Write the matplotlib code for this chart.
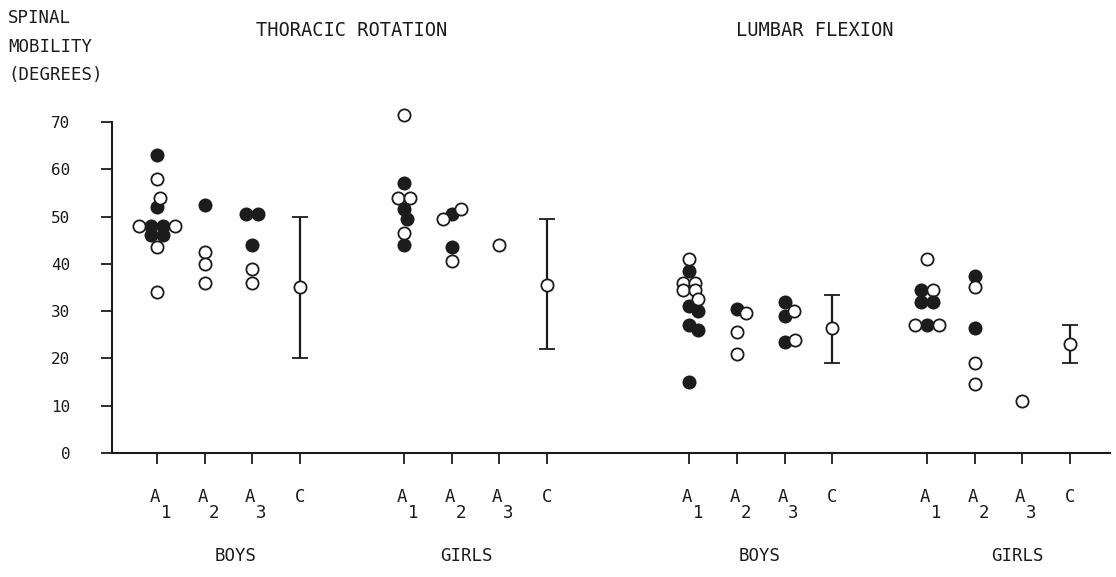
import numpy as np
import matplotlib.pyplot as plt

plt.rcParams['font.family'] = ['DejaVu Sans Mono', 'DejaVu Sans']

# --- data (degrees) ---
conditions = ["A", "A", "A", "C"]
subscripts = ["1", "2", "3", ""]
sexes = ["BOYS", "GIRLS", "BOYS", "GIRLS"]
panels = ["THORACIC ROTATION", "LUMBAR FLEXION"]
y_ticks = [0, 10, 20, 30, 40, 50, 60, 70]

# thoracic rotation - boys
tr_boys_a1_filled = [63, 52, 48, 48, 46, 46]
tr_boys_a1_open = [58, 54, 48, 48, 43.5, 34]
tr_boys_a2_filled = [52.5]
tr_boys_a2_open = [42.5, 40, 36]
tr_boys_a3_filled = [50.5, 50.5, 44]
tr_boys_a3_open = [39, 36]
tr_boys_c = [35, 20, 50]          # mean, low, high

# thoracic rotation - girls
tr_girls_a1_filled = [57, 51.5, 49.5, 44]
tr_girls_a1_open = [71.5, 54, 54, 46.5]
tr_girls_a2_filled = [50.5, 43.5]
tr_girls_a2_open = [51.5, 49.5, 40.5]
tr_girls_a3_filled = []
tr_girls_a3_open = [44]
tr_girls_c = [35.5, 22, 49.5]

# lumbar flexion - boys
lf_boys_a1_filled = [38.5, 31, 30, 27, 26, 15]
lf_boys_a1_open = [41, 36, 36, 34.5, 34.5, 32.5]
lf_boys_a2_filled = [30.5]
lf_boys_a2_open = [29.5, 25.5, 21]
lf_boys_a3_filled = [32, 29, 23.5]
lf_boys_a3_open = [30, 24]
lf_boys_c = [26.5, 19, 33.5]

# lumbar flexion - girls
lf_girls_a1_filled = [34.5, 32, 32, 27]
lf_girls_a1_open = [41, 34.5, 27, 27]
lf_girls_a2_filled = [37.5, 26.5]
lf_girls_a2_open = [35, 19, 14.5]
lf_girls_a3_filled = []
lf_girls_a3_open = [11]
lf_girls_c = [23, 19, 27]

blocks = [
    [(tr_boys_a1_filled, tr_boys_a1_open), (tr_boys_a2_filled, tr_boys_a2_open),
     (tr_boys_a3_filled, tr_boys_a3_open), tr_boys_c],
    [(tr_girls_a1_filled, tr_girls_a1_open), (tr_girls_a2_filled, tr_girls_a2_open),
     (tr_girls_a3_filled, tr_girls_a3_open), tr_girls_c],
    [(lf_boys_a1_filled, lf_boys_a1_open), (lf_boys_a2_filled, lf_boys_a2_open),
     (lf_boys_a3_filled, lf_boys_a3_open), lf_boys_c],
    [(lf_girls_a1_filled, lf_girls_a1_open), (lf_girls_a2_filled, lf_girls_a2_open),
     (lf_girls_a3_filled, lf_girls_a3_open), lf_girls_c],
]

# layout
group_start = [0, 5.2, 11.2, 16.2]
label_shift = [1.65, 1.3, 1.47, 1.9]
ink = '#1c1c1c'
PX_X = 47.5      # pixels per x unit
PX_Y = 4.73      # pixels per degree
ROW_D = 12.0     # spacing of tied values, px
MIN_D = 9.8      # min centre distance for the other points, px


def arrange(filled, opened):
    # tied values sit side by side (filled ones in the middle),
    # the rest are nudged sideways only when they would hide each other
    pts = [(v, True) for v in filled] + [(v, False) for v in opened]
    vals = [p[0] for p in pts]
    placed = []
    done = set()
    for v in sorted(set(vals), reverse=True):
        row = [p for p in pts if p[0] == v]
        if len(row) < 2:
            continue
        n = len(row)
        slots = [(i - (n - 1) / 2) * ROW_D for i in range(n)]
        slots = sorted(slots, key=lambda s: (abs(s), s))
        row = sorted(row, key=lambda p: not p[1])
        for s, p in zip(slots, row):
            placed.append((s, v * PX_Y, v, p[1]))
        done.add(v)
    steps = np.arange(0.5, 60, 0.5)
    cand = np.concatenate([[0], np.column_stack([steps, -steps]).ravel()])
    rest = [p for p in pts if p[0] not in done]
    rest = sorted(rest, key=lambda p: (not p[1], -p[0]))
    for v, f in rest:
        y = v * PX_Y
        for c in cand:
            if all((c - px) ** 2 + (y - py) ** 2 >= MIN_D ** 2
                   for px, py, _, _ in placed):
                break
        placed.append((c, y, v, f))
    return [(c / PX_X, v, f) for c, _, v, f in placed]


fig = plt.figure(figsize=(11.16, 5.77), dpi=100)
ax = fig.add_axes([0.1004, 0.2149, 0.8943, 0.5737])

tick_x = []
for g, block in enumerate(blocks):
    for k, item in enumerate(block):
        x0 = group_start[g] + k
        tick_x.append(x0)
        if k < 3:
            for o, v, f in arrange(*item):
                ax.plot(x0 + o, v, 'o', ms=8.8, mec=ink, mew=1.3,
                        mfc=ink if f else 'white', clip_on=False, zorder=3)
        else:
            mean, lo, hi = item
            ax.errorbar(x0, mean, yerr=[[mean - lo], [hi - mean]], fmt='o',
                        ms=8.8, mfc='white', mec=ink, mew=1.3, ecolor=ink,
                        elinewidth=1.6, capsize=6, capthick=1.6, zorder=3)

ax.set_xlim(-0.95, 20.05)
ax.set_ylim(0, 70)
ax.spines['top'].set_visible(False)
ax.spines['right'].set_visible(False)
for s in ['left', 'bottom']:
    ax.spines[s].set_linewidth(1.5)
    ax.spines[s].set_color(ink)

ax.set_yticks(y_ticks)
ax.set_yticklabels([str(t) for t in y_ticks])
ax.tick_params(axis='y', length=8, width=1.3, pad=22, labelsize=11.5,
               colors=ink, direction='out')
ax.set_xticks(tick_x)
ax.set_xticklabels([''] * len(tick_x))
ax.tick_params(axis='x', length=8, width=1.3, colors=ink, direction='out')

# condition labels with subscripts, and group labels
for g in range(4):
    for k in range(4):
        x0 = group_start[g] + k
        ax.annotate(conditions[k], xy=(x0, 0), xycoords=('data', 'axes fraction'),
                    xytext=(-1.5 if subscripts[k] else 0, -32), textcoords='offset points',
                    ha='center', va='center', fontsize=12.5, color=ink)
        if subscripts[k]:
            ax.annotate(subscripts[k], xy=(x0, 0), xycoords=('data', 'axes fraction'),
                        xytext=(6.5, -43), textcoords='offset points',
                        ha='center', va='center', fontsize=12.5, color=ink)
    ax.annotate(sexes[g], xy=(group_start[g] + label_shift[g], 0),
                xycoords=('data', 'axes fraction'),
                xytext=(0, -74), textcoords='offset points',
                ha='center', va='center', fontsize=12.5, color=ink)

fig.text(352 / 1116, 1 - 30 / 577, panels[0], ha='center', va='center',
         fontsize=13.5, color=ink)
fig.text(815 / 1116, 1 - 30 / 577, panels[1], ha='center', va='center',
         fontsize=13.5, color=ink)
fig.text(8 / 1116, 1 - 9 / 577, "SPINAL\nMOBILITY\n(DEGREES)", ha='left', va='top',
         fontsize=12.5, color=ink, linespacing=1.75)

fig.savefig('out.png', dpi=100)
